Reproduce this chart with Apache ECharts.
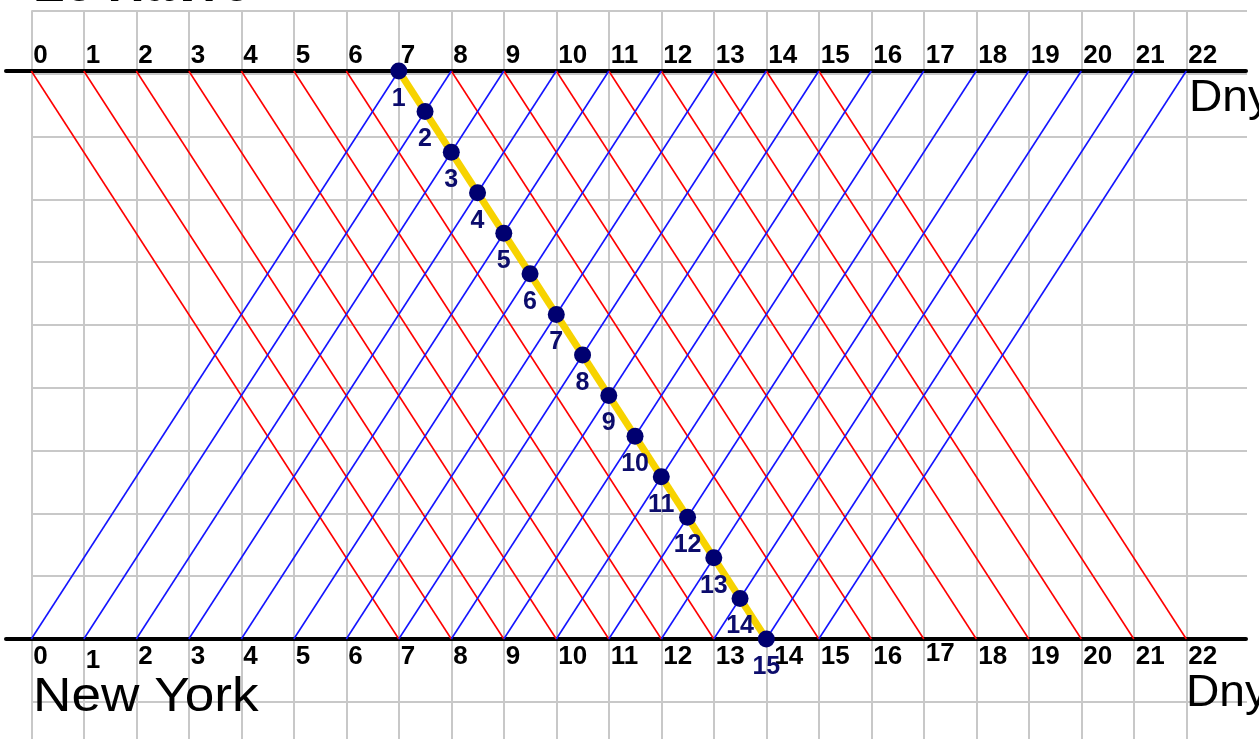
<!DOCTYPE html>
<html>
<head>
<meta charset="utf-8">
<script src="https://cdn.jsdelivr.net/npm/echarts@6/dist/echarts.min.js"></script>
<style>
  html, body { margin: 0; padding: 0; background: #ffffff; }
  #chart { width: 1259px; height: 739px; }
</style>
</head>
<body>
<div id="chart"></div>
<script>
// ---- data ----
const dayTicks = ['0','1','2','3','4','5','6','7','8','9','10','11','12','13','14','15','16','17','18','19','20','21','22'];
// ships leaving Le Havre (top) on these days, arriving in New York (bottom)
const leHavreDepartures = [0,1,2,3,4,5,6,7,8,9,10,11,12,13,14,15];
const newYorkArrivals   = [7,8,9,10,11,12,13,14,15,16,17,18,19,20,21,22];
// ships leaving New York (bottom) on these days, arriving in Le Havre (top)
const newYorkDepartures = [0,1,2,3,4,5,6,7,8,9,10,11,12,13,14,15];
const leHavreArrivals   = [7,8,9,10,11,12,13,14,15,16,17,18,19,20,21,22];
// highlighted ship (Le Havre day 7 -> New York day 14)
const trackDays = [7, 14];
const trackPos  = [7, 0];
// meetings of the highlighted ship
const meetDays = [7, 7.5, 8, 8.5, 9, 9.5, 10, 10.5, 11, 11.5, 12, 12.5, 13, 13.5, 14];
const meetPos  = [7, 6.5, 6, 5.5, 5, 4.5, 4, 3.5, 3, 2.5, 2, 1.5, 1, 0.5, 0];
const meetLabels = ['1','2','3','4','5','6','7','8','9','10','11','12','13','14','15'];
const LE_HAVRE = 7, NEW_YORK = 0;

const chart = echarts.init(document.getElementById('chart'), null, { renderer: 'canvas' });
const FONT = "'Liberation Sans', Arial, Helvetica, sans-serif";
const GRID_GRAY = '#c8c8c8';
const TICK_FONT = { fontFamily: FONT, fontSize: 26, fontWeight: 'bold', color: '#000' };

const topLabel = {
  show: true, align: 'left', verticalAlign: 'middle', margin: 15, padding: [0, 0, 0, 2], ...TICK_FONT,
  formatter: v => dayTicks[v] !== undefined ? dayTicks[v] : ''
};
const bottomLabel = {
  show: true, align: 'left', verticalAlign: 'middle', margin: 18, padding: [0, 0, 0, 2], ...TICK_FONT,
  rich: {
    low:   { ...TICK_FONT, padding: [8, 0, 0, 0] },
    high:  { ...TICK_FONT, padding: [0, 0, 6, 0] },
    right: { ...TICK_FONT, padding: [0, 0, 0, 6] }
  },
  formatter: v => {
    const t = dayTicks[v];
    if (t === undefined) return '';
    if (t === '1') return '{low|' + t + '}';
    if (t === '17') return '{high|' + t + '}';
    if (t === '14') return '{right|' + t + '}';
    return t;
  }
};

const option = {
  animation: false,
  backgroundColor: '#ffffff',
  grid: [
    { left: 31.3, right: 72.7, top: 71, bottom: 100 },   // ships
    { left: 6, right: 13, top: 71, bottom: 100 },        // black port lines
    { left: 31.3, right: 72.7, top: 11, bottom: 0 },     // vertical grid
    { left: 31.3, right: 12, top: 11.1, bottom: 0 }      // horizontal grid
  ],
  xAxis: [
    { gridIndex: 0, type: 'value', min: 0, max: 22, interval: 1, position: 'top',
      axisLine: { show: false }, axisTick: { show: false }, splitLine: { show: false },
      axisLabel: topLabel },
    { gridIndex: 0, type: 'value', min: 0, max: 22, interval: 1, position: 'bottom',
      axisLine: { show: false }, axisTick: { show: false }, splitLine: { show: false },
      axisLabel: bottomLabel },
    { gridIndex: 1, type: 'value', min: 0, max: 1, position: 'top',
      axisLine: { show: true, onZero: false, lineStyle: { color: '#000', width: 4 } },
      axisTick: { show: false }, axisLabel: { show: false }, splitLine: { show: false } },
    { gridIndex: 1, type: 'value', min: 0, max: 1, position: 'bottom',
      axisLine: { show: true, onZero: false, lineStyle: { color: '#000', width: 4 } },
      axisTick: { show: false }, axisLabel: { show: false }, splitLine: { show: false } },
    { gridIndex: 2, type: 'value', min: 0, max: 22, interval: 1,
      axisLine: { show: false }, axisTick: { show: false }, axisLabel: { show: false },
      splitLine: { show: true, lineStyle: { color: GRID_GRAY, width: 2 } } },
    { gridIndex: 3, type: 'value', min: 0, max: 1, show: false }
  ],
  yAxis: [
    { gridIndex: 0, type: 'value', min: NEW_YORK, max: LE_HAVRE, show: false },
    { gridIndex: 1, type: 'value', min: 0, max: 1, show: false },
    { gridIndex: 2, type: 'value', min: 0, max: 1, show: false },
    { gridIndex: 3, type: 'value', inverse: true, min: 0, max: 11.595, interval: 1,
      axisLine: { show: false }, axisTick: { show: false }, axisLabel: { show: false },
      splitLine: { show: true, showMaxLine: false, lineStyle: { color: GRID_GRAY, width: 2 } } }
  ],
  series: [
    {
      name: 'Le Havre → New York', type: 'lines', coordinateSystem: 'cartesian2d',
      xAxisIndex: 0, yAxisIndex: 0, z: 2, silent: true,
      lineStyle: { color: '#ff0000', width: 1.6, opacity: 1 },
      data: leHavreDepartures.map((d, i) => ({ coords: [[d, LE_HAVRE], [newYorkArrivals[i], NEW_YORK]] }))
    },
    {
      name: 'New York → Le Havre', type: 'lines', coordinateSystem: 'cartesian2d',
      xAxisIndex: 0, yAxisIndex: 0, z: 2, silent: true,
      lineStyle: { color: '#1414ff', width: 1.6, opacity: 1 },
      data: newYorkDepartures.map((d, i) => ({ coords: [[d, NEW_YORK], [leHavreArrivals[i], LE_HAVRE]] }))
    },
    {
      name: 'track', type: 'line', xAxisIndex: 0, yAxisIndex: 0, z: 3,
      symbol: 'none', lineStyle: { color: '#f7d300', width: 7 },
      data: trackDays.map((d, i) => [d, trackPos[i]])
    },
    {
      name: 'meetings', type: 'scatter', xAxisIndex: 0, yAxisIndex: 0, z: 4,
      symbolSize: 17, itemStyle: { color: '#000070', opacity: 1 },
      label: {
        show: true, position: 'bottom', distance: 7, opacity: 1,
        fontFamily: FONT, fontSize: 25, fontWeight: 'bold', color: '#0c0c6c',
        formatter: p => meetLabels[p.dataIndex]
      },
      data: meetDays.map((d, i) => [d, meetPos[i]])
    }
  ],
  graphic: [
    { type: 'text', x: 33, y: -13, z: 10, scaleX: 1.03,
      style: { text: 'Le Havre', font: "bold 50px " + FONT, fill: '#000', verticalAlign: 'middle', align: 'left' } },
    { type: 'text', x: 33, y: 697, z: 10, scaleX: 1.085,
      style: { text: 'New York', font: "49px " + FONT, fill: '#000', verticalAlign: 'middle', align: 'left' } },
    { type: 'text', x: 1189, y: 99, z: 10, scaleX: 1.05,
      style: { text: 'Dny', font: "44px " + FONT, fill: '#000', verticalAlign: 'middle', align: 'left' } },
    { type: 'text', x: 1186, y: 694, z: 10, scaleX: 1.05,
      style: { text: 'Dny', font: "44px " + FONT, fill: '#000', verticalAlign: 'middle', align: 'left' } }
  ]
};
chart.setOption(option);
</script>
</body>
</html>
